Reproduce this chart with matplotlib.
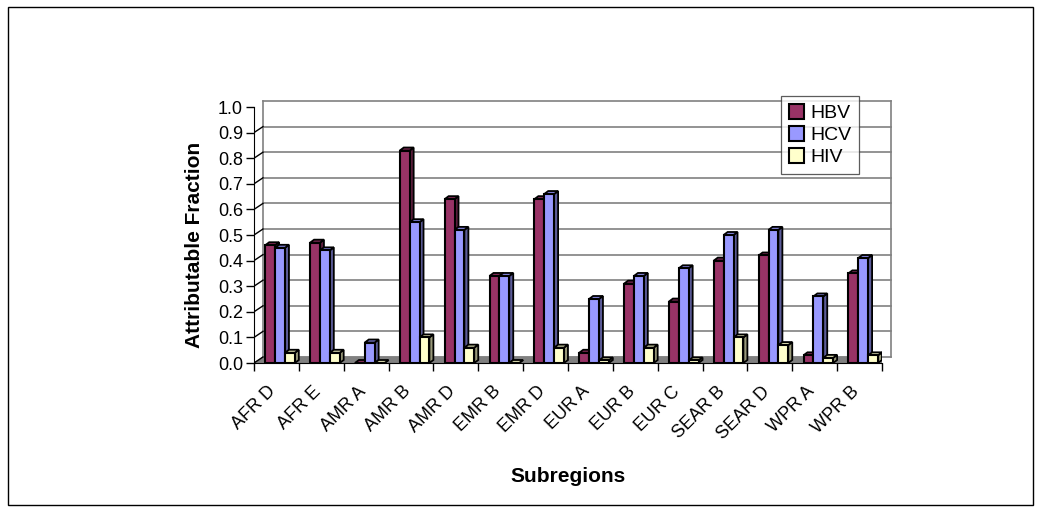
import matplotlib
matplotlib.use("Agg")
import matplotlib.pyplot as plt
import numpy as np
from matplotlib.patches import Polygon, Rectangle
from matplotlib.transforms import IdentityTransform, offset_copy, ScaledTranslation
import matplotlib.colors as mcolors

categories = ["AFR D", "AFR E", "AMR A", "AMR B", "AMR D", "EMR B", "EMR D",
              "EUR A", "EUR B", "EUR C", "SEAR B", "SEAR D", "WPR A", "WPR B"]
hbv = [0.46, 0.47, 0.0, 0.83, 0.64, 0.34, 0.64, 0.04, 0.31, 0.24, 0.40, 0.42, 0.03, 0.35]
hcv = [0.45, 0.44, 0.08, 0.55, 0.52, 0.34, 0.66, 0.25, 0.34, 0.37, 0.50, 0.52, 0.26, 0.41]
hiv = [0.04, 0.04, 0.0, 0.10, 0.06, 0.0, 0.06, 0.01, 0.06, 0.01, 0.10, 0.07, 0.02, 0.03]
series = {"HBV": hbv, "HCV": hcv, "HIV": hiv}
colors = {"HBV": "#993366", "HCV": "#9999FF", "HIV": "#FFFFCC"}
yticks = [round(0.1 * i, 1) for i in range(11)]

plt.rcParams['font.family'] = ['Liberation Sans', 'DejaVu Sans']

W, H = 1042, 512
fig = plt.figure(figsize=(W / 100, H / 100), dpi=100)
fig.patches.append(Rectangle((8 / W, 7 / H), 1025 / W, 498 / H,
                             transform=fig.transFigure, fill=False,
                             edgecolor="black", linewidth=1.0))

# front plane of the 3-D plot area (pixels): x 254..882, y 363 (0) .. 107 (1.0)
L, R, B, T = 254, 882, 363, 107
ax = fig.add_axes([L / W, (H - B) / H, (R - L) / W, (B - T) / H])

n = len(categories)
x = np.arange(n)
w = 0.22
shift = 0.08
ax.set_xlim(-0.5, n - 0.5)
ax.set_ylim(0, 1.0)

wall_dx, wall_dy = 9, 6
back = offset_copy(ax.transData, fig=fig, x=wall_dx, y=wall_dy, units="dots")

# back wall gridlines and edges
for yv in yticks:
    ax.plot([-0.5, n - 0.5], [yv, yv], color="#808080", linewidth=1.2,
            transform=back, zorder=0, clip_on=False)
ax.plot([-0.5, -0.5], [0, 1.0], color="#808080", linewidth=1.2,
        transform=back, zorder=0, clip_on=False)
ax.plot([n - 0.5, n - 0.5], [0, 1.0], color="#808080", linewidth=1.2,
        transform=back, zorder=0, clip_on=False)

def shade(c, f):
    r, g, b = mcolors.to_rgb(c)
    return (r * f, g * f, b * f)

# floor
p0 = ax.transData.transform((-0.5, 0))
p1 = ax.transData.transform((n - 0.5, 0))
floor = Polygon([p0, p1, (p1[0] + wall_dx, p1[1] + wall_dy), (p0[0] + wall_dx, p0[1] + wall_dy)],
                closed=True, transform=IdentityTransform(), facecolor="#808080",
                edgecolor="#808080", linewidth=0.8, zorder=1)
ax.add_artist(floor)

# diagonal connectors from y ticks to the back wall
for yv in yticks:
    a = ax.transData.transform((-0.5, yv))
    ax.add_artist(plt.Line2D([a[0], a[0] + wall_dx], [a[1], a[1] + wall_dy],
                             transform=IdentityTransform(), color="black",
                             linewidth=1.0, zorder=1.5))

bdx, bdy = 4, 3
offsets = {"HBV": -w, "HCV": 0.0, "HIV": w}
for name, vals in series.items():
    xs = x + offsets[name] + shift
    ax.bar(xs, vals, width=w, color=colors[name], edgecolor="black",
           linewidth=1.5, zorder=3, label=name)
    for xi, v in zip(xs, vals):
        br = ax.transData.transform((xi + w / 2, 0))
        tr = ax.transData.transform((xi + w / 2, v))
        tl = ax.transData.transform((xi - w / 2, v))
        side = Polygon([br, tr, (tr[0] + bdx, tr[1] + bdy), (br[0] + bdx, br[1] + bdy)],
                       closed=True, transform=IdentityTransform(),
                       facecolor=shade(colors[name], 0.6), edgecolor="black",
                       linewidth=1.3, zorder=2.9)
        top = Polygon([tl, tr, (tr[0] + bdx, tr[1] + bdy), (tl[0] + bdx, tl[1] + bdy)],
                      closed=True, transform=IdentityTransform(),
                      facecolor=shade(colors[name], 0.85), edgecolor="black",
                      linewidth=1.3, zorder=2.9)
        ax.add_artist(side)
        ax.add_artist(top)

ax.set_yticks(yticks)
ax.set_yticklabels([f"{v:.1f}" for v in yticks], fontsize=13)
ax.set_xticks(x)
ax.set_xticklabels(categories, rotation=45, ha="right", va="top", fontsize=13,
                   rotation_mode="anchor")
ax.tick_params(axis="x", which="major", length=0, pad=0)
lab_shift = ScaledTranslation(-9 / 100, -20 / 100, fig.dpi_scale_trans)
for lab in ax.get_xticklabels():
    lab.set_transform(lab.get_transform() + lab_shift)
ax.set_xticks(np.arange(n + 1) - 0.5, minor=True)
ax.tick_params(axis="x", which="minor", length=6, width=1.0, direction="out")
ax.tick_params(axis="y", length=6, width=1.0, direction="out", pad=2)

for s in ["top", "right"]:
    ax.spines[s].set_visible(False)
ax.spines["left"].set_color("black")
ax.spines["bottom"].set_color("black")
ax.spines["left"].set_zorder(2)
ax.spines["bottom"].set_zorder(2)

fig.text(195 / W, 1 - 244.5 / H, "Attributable Fraction", rotation=90,
         ha="center", va="center", fontsize=15, fontweight="bold")
fig.text(568 / W, 1 - 476 / H, "Subregions", ha="center", va="center",
         fontsize=15, fontweight="bold")

leg = ax.legend(loc="upper right", bbox_to_anchor=(859 / W, 1 - 96 / H),
                bbox_transform=fig.transFigure, fontsize=14, frameon=True,
                fancybox=False, edgecolor="#333333", handlelength=0.8,
                handleheight=0.8, borderpad=0.4, labelspacing=0.2,
                handletextpad=0.3, borderaxespad=0)
leg.get_frame().set_linewidth(0.9)
leg.set_zorder(10)

fig.savefig("out.png", dpi=100)
